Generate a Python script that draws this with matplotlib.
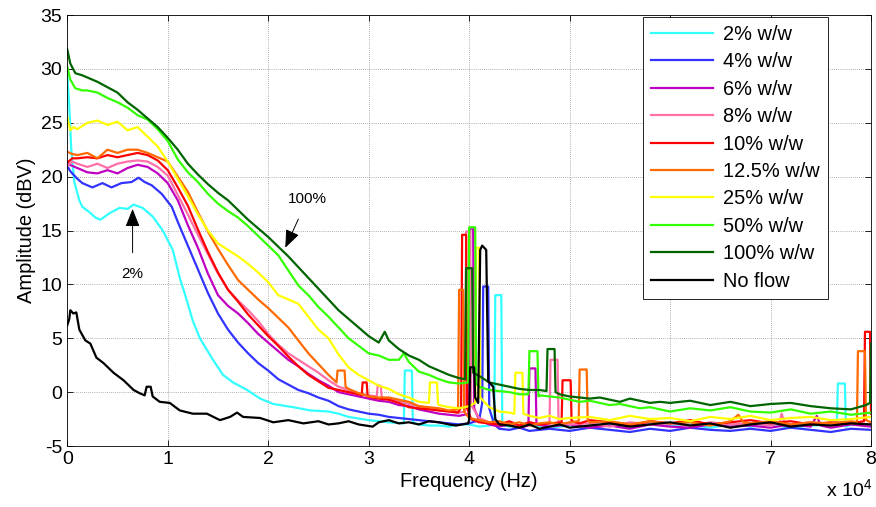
import matplotlib
matplotlib.use('Agg')
import matplotlib.pyplot as plt

plt.rcParams['font.family'] = ['Liberation Sans', 'DejaVu Sans']
plt.rcParams['mathtext.fontset'] = 'custom'
plt.rcParams['mathtext.rm'] = 'Liberation Sans'
plt.rcParams['axes.unicode_minus'] = False

########################################################################
# spectra: frequency in kHz, amplitude in dBV

f_2 = [0, 0.2, 0.4, 0.7, 1.2, 1.5, 2.2, 2.8, 3.3, 4.2, 5.2, 6.0, 6.6, 7.5, 8.5, 9.5, 10.5,
       11.2, 11.9, 12.5, 13.2, 14.5, 15.5, 16.5, 17.9, 19.2, 20.5, 22.5, 24.2, 26, 27, 28,
       30, 32, 33.5, 33.6, 34.3, 34.4, 35, 36, 37, 38, 39, 40, 41, 42, 42.5, 42.6, 43.2,
       43.3, 44, 46, 48, 50, 52, 54, 56, 58, 60, 62, 64, 66, 68, 70, 72, 74, 76.6, 76.7,
       77.4, 77.5, 78, 80]
a_2 = [29.5, 26.5, 22.5, 19.5, 17.8, 17.2, 16.7, 16.2, 16.0, 16.6, 17.1, 17.0, 17.4, 17.1,
       16.3, 15.0, 13.2, 10.6, 8.5, 6.6, 5.0, 3.0, 1.6, 0.9, 0.2, -0.6, -1.1, -1.4, -1.7,
       -1.8, -2.0, -2.3, -2.6, -2.8, -2.9, 2.0, 2.0, -2.8, -3.0, -3.1, -3.1, -3.2, -3.0,
       -3.0, -3.2, -3.1, -3.0, 9.0, 9.0, -3.0, -3.2, -3.0, -3.3, -3.1, -3.2, -3.0, -3.2,
       -2.9, -3.1, -3.0, -3.3, -3.0, -3.2, -3.0, -3.3, -3.1, -3.0, 0.8, 0.8, -3.2, -3.0, -3.1]

f_4 = [0, 0.3, 0.6, 1, 1.5, 2.5, 3.5, 4.4, 5.4, 6.4, 7.1, 7.7, 8.4, 9.4, 10.4, 11, 12, 13,
       14, 15, 16, 17, 18, 19, 20, 21, 22, 23, 24, 25, 26, 27, 28, 29, 30, 31, 32, 33, 34,
       35, 36, 37, 38, 39, 40, 41, 41.3, 41.4, 41.9, 42.0, 42.5, 43, 44, 45, 46, 48, 50,
       52, 54, 56, 58, 60, 62, 64, 66, 68, 70, 72, 74, 76, 78, 80]
a_4 = [21.0, 20.5, 20.2, 19.8, 19.4, 19.0, 19.4, 19.0, 19.4, 19.5, 19.9, 19.5, 19.2, 18.4,
       17.2, 15.8, 13.6, 11.4, 9.2, 7.3, 5.8, 4.6, 3.6, 2.7, 2.0, 1.2, 0.7, 0.2, -0.1, -0.5,
       -0.8, -1.3, -1.6, -1.8, -2.0, -2.1, -2.3, -2.4, -2.5, -2.6, -2.7, -2.8, -2.9, -3.0,
       -2.9, -2.6, -1.0, 9.8, 9.8, -1.5, -3.0, -3.4, -3.5, -3.3, -3.6, -3.4, -3.6, -3.3,
       -3.5, -3.7, -3.4, -3.6, -3.3, -3.5, -3.6, -3.4, -3.6, -3.3, -3.5, -3.7, -3.4, -3.5]

f_6 = [0, 0.5, 1, 2, 3, 4, 5, 6, 7, 8, 9, 10, 11, 12, 13, 14, 15, 16, 17, 18, 19, 20, 21,
       22, 23, 24, 25, 26, 27, 28, 29, 30, 31, 32, 33, 34, 35, 36, 37, 38, 39, 40.0, 40.1,
       40.4, 40.5, 41, 42, 43, 44, 45, 45.9, 46.0, 46.6, 46.7, 48, 50, 52, 54, 56, 58, 60,
       62, 64, 66, 68, 70, 72, 74, 74.6, 75, 76, 78, 80]
a_6 = [21.2, 21.0, 20.8, 20.4, 20.3, 20.6, 20.3, 20.8, 21.1, 20.9, 20.3, 19.4, 17.8, 15.5,
       13.4, 11.0, 9.0, 8.0, 7.3, 6.4, 5.4, 4.6, 3.8, 3.0, 2.4, 1.7, 1.1, 0.6, 0.0, -0.2,
       -0.4, -0.6, -0.8, -0.9, -1.2, -1.3, -1.6, -1.8, -2.0, -2.1, -2.2, -2.0, 15.2, 15.2,
       -1.5, -2.6, -3.0, -3.2, -3.0, -3.3, -3.1, 2.2, 2.2, -3.0, -3.2, -3.0, -3.3, -3.1,
       -3.4, -3.0, -3.2, -3.3, -3.0, -3.2, -3.1, -3.3, -3.0, -3.2, -2.2, -3.1, -3.3, -3.0,
       -3.2]

f_8 = [0, 0.5, 1, 2, 3, 4, 5, 6, 7, 8, 9, 10, 11, 12, 13, 14, 15, 16, 17, 18, 19, 20, 21,
       22, 23, 24, 25, 26, 27, 28, 29, 30, 30.8, 30.9, 31.2, 31.3, 32, 33, 34, 35, 36, 37,
       38, 39, 39.6, 39.7, 40.1, 40.2, 41, 42, 43, 44, 45, 46, 47, 48, 48.1, 48.8, 48.9,
       50, 52, 54, 56, 58, 60, 62, 64, 66, 68, 70, 70.9, 71.1, 71.4, 72, 74, 76, 78, 80]
a_8 = [21.0, 21.4, 21.2, 20.9, 21.2, 20.8, 21.2, 21.4, 21.5, 21.4, 20.9, 20.1, 18.3, 16.5,
       14.6, 12.8, 11.0, 9.5, 8.5, 7.6, 6.6, 5.4, 4.4, 3.6, 3.0, 2.4, 1.8, 1.1, 0.5, 0.2,
       -0.1, -0.3, -0.4, 0.6, 0.6, -0.5, -0.6, -0.8, -1.1, -1.3, -1.5, -1.7, -1.8, -1.9,
       -1.8, 14.9, 14.9, -1.2, -2.4, -2.8, -3.0, -2.9, -3.1, -2.8, -3.0, -2.9, 3.0, 3.0,
       -2.8, -3.0, -2.9, -3.2, -2.8, -3.0, -2.9, -3.1, -2.8, -3.0, -2.9, -3.1, -2.9, -2.0,
       -2.9, -3.0, -2.8, -3.1, -2.9, -3.0]

f_10 = [0, 0.5, 1, 2, 3, 4, 5, 6, 7, 8, 9, 10, 11, 12, 13, 14, 15, 16, 17, 18, 19, 20, 21,
        22, 23, 24, 25, 26, 27, 28, 29, 29.3, 29.4, 29.8, 29.9, 30.4, 31, 32, 33, 34, 35,
        36, 37, 38, 38.9, 39.2, 39.3, 39.7, 39.8, 40.2, 41, 42, 43, 44, 45, 46, 47, 48,
        49.2, 49.3, 50.1, 50.2, 51, 52, 54, 56, 58, 60, 62, 64, 66, 68, 70, 72, 74, 76, 78,
        79.3, 79.4, 79.9, 80]
a_10 = [21.3, 21.7, 21.7, 21.8, 21.7, 22.0, 21.8, 22.0, 22.2, 22.0, 21.5, 20.6, 19.0, 17.3,
        15.1, 13.0, 11.1, 9.5, 8.4, 7.2, 6.2, 5.2, 4.3, 3.3, 2.4, 1.6, 1.0, 0.4, 0.2, 0.0,
        -0.2, -0.3, 0.9, 0.9, -0.4, -0.5, -0.6, -0.7, -1.0, -1.4, -1.5, -1.6, -1.7, -1.8,
        -1.9, -1.4, 14.6, 14.6, -1.5, -2.5, -2.8, -2.9, -3.0, -2.7, -3.1, -2.8, -3.0, -2.9,
        -2.8, 1.1, 1.1, -2.7, -2.9, -2.6, -2.8, -3.1, -2.7, -2.9, -2.6, -3.0, -2.8, -2.6,
        -2.9, -2.7, -3.0, -2.8, -2.9, -2.7, 5.6, 5.6, -2.0]

f_125 = [0, 0.5, 1, 2, 3, 4, 5, 6, 7, 8, 9, 10, 11, 12, 13, 14, 15, 16, 17, 18, 19, 20, 21,
         22, 23, 24, 25, 26, 26.8, 26.9, 27.6, 27.7, 28, 29, 30, 31, 32, 33, 34, 35, 36, 37,
         38, 38.9, 39.0, 39.4, 39.5, 40, 41, 42, 43, 44, 45, 46, 47, 48, 49, 50, 50.9, 51.0,
         51.7, 51.8, 52, 54, 56, 58, 60, 62, 64, 66, 66.8, 67.3, 68, 70, 72, 74, 76, 78,
         78.6, 78.7, 79.4, 79.5, 80]
a_125 = [22.3, 22.1, 22.0, 22.2, 21.7, 22.5, 22.2, 22.5, 22.5, 22.2, 21.8, 21.4, 20.0, 18.6,
         16.7, 14.9, 13.3, 11.8, 10.4, 9.5, 8.6, 7.8, 6.9, 6.0, 4.8, 3.6, 2.6, 1.6, 0.9, 2.0,
         2.0, 0.5, 0.3, -0.1, -0.4, -0.5, -0.5, -0.7, -0.9, -1.3, -1.4, -1.5, -1.7, -1.6,
         9.5, 9.5, -1.8, -2.4, -2.6, -2.8, -2.7, -3.0, -2.8, -3.1, -2.9, -2.8, -3.0, -2.8,
         -2.7, 2.1, 2.1, -2.6, -2.8, -2.7, -3.0, -2.7, -2.9, -2.8, -3.1, -2.7, -2.1, -2.8,
         -2.9, -2.7, -3.0, -2.8, -2.9, -2.7, -2.8, 3.8, 3.8, -2.6, -2.8]

f_25 = [0, 0.3, 0.6, 1, 2, 3, 4, 5, 6, 7, 8, 9, 10, 10.5, 11, 12, 13, 14, 15, 16, 17, 18,
        19, 20, 21, 22, 23, 24, 25, 26, 27, 28, 29, 30, 31, 32, 33, 34, 35, 36.0, 36.1,
        36.8, 36.9, 37, 38, 39, 40, 40.6, 40.7, 41.0, 41.1, 42, 43, 44, 44.5, 44.6, 45.3,
        45.4, 46, 47, 48, 49, 50, 52, 54, 56, 58, 60, 62, 64, 66, 68, 70, 72, 74, 76, 78, 80]
a_25 = [25.5, 24.3, 24.6, 24.4, 25.0, 25.2, 24.8, 25.1, 24.3, 24.6, 23.7, 22.8, 21.4, 20.6,
        19.8, 18.2, 16.5, 15.0, 13.8, 13.2, 12.6, 11.9, 11.1, 10.2, 9.0, 8.6, 8.2, 7.0, 5.8,
        5.0, 3.5, 2.3, 1.6, 1.1, 0.6, 0.3, -0.2, -0.5, -0.9, -1.0, 0.9, 0.9, -1.1, -1.2,
        -1.4, -1.5, -1.3, -1.0, 13.4, 13.4, -0.5, -1.4, -1.8, -1.9, -2.0, 1.8, 1.8, -2.0,
        -2.2, -2.4, -2.2, -2.5, -2.4, -2.3, -2.6, -2.2, -2.5, -2.4, -2.7, -2.3, -2.5, -2.2,
        -2.6, -2.4, -2.3, -2.6, -2.5, -2.3]

f_50 = [0, 0.3, 0.8, 1.5, 2, 3, 4, 5, 6, 7, 8, 9, 10, 11, 12, 13, 14, 15, 16, 17, 18, 19,
        20, 21, 22, 23, 24, 25, 26, 27, 28, 29, 30, 31, 32, 33, 33.5, 34, 35, 36, 37, 38, 39,
        39.9, 40.0, 40.6, 40.7, 41, 42, 43, 44, 45, 45.9, 46.0, 46.8, 46.9, 47, 48, 49, 50,
        51, 52, 53, 54, 55, 56, 57, 58, 60, 62, 64, 66, 68, 70, 72, 74, 76, 78, 80]
a_50 = [30.2, 29.0, 28.2, 28.0, 28.0, 27.8, 27.3, 26.9, 26.4, 25.7, 25.3, 24.4, 23.3, 21.6,
        20.4, 19.5, 18.4, 17.5, 16.8, 16.2, 15.4, 14.5, 13.6, 12.7, 11.3, 9.9, 9.0, 7.9,
        7.0, 6.0, 5.0, 4.3, 3.6, 3.4, 3.0, 3.0, 3.6, 2.8, 1.9, 1.6, 1.2, 0.9, 0.8, 0.9,
        15.3, 15.3, 0.8, 0.5, 0.2, 0.1, 0.0, -0.2, -0.2, 3.8, 3.8, -0.4, -0.3, -0.4, -0.5,
        -0.7, -0.9, -0.8, -1.0, -1.2, -1.1, -1.3, -1.5, -1.4, -1.8, -1.5, -1.7, -1.4, -1.8,
        -1.9, -1.6, -2.0, -1.8, -2.1, -1.9]

f_100 = [0, 0.3, 0.8, 1.5, 2, 3, 4, 5, 6, 7, 8, 9, 10, 11, 12, 13, 14, 15, 16, 17, 18, 19,
         20, 21, 22, 23, 24, 25, 26, 27, 28, 29, 30, 31, 31.6, 32, 33, 34, 35, 36, 37, 38, 39,
         39.6, 39.7, 40.3, 40.4, 41, 42, 43, 44, 45, 46, 47, 47.7, 47.8, 48.5, 48.6, 49, 50,
         51, 52, 53, 54, 55, 56, 57, 58, 59, 60, 62, 64, 66, 68, 70, 72, 74, 76, 78, 79.5,
         79.9, 80]
a_100 = [31.8, 30.5, 29.6, 29.4, 29.2, 28.8, 28.3, 27.8, 26.9, 26.2, 25.4, 24.6, 23.6, 22.5,
         21.2, 20.2, 19.3, 18.5, 17.8, 16.9, 16.0, 15.2, 14.4, 13.5, 12.6, 11.6, 10.6, 9.6,
         8.6, 7.6, 6.8, 6.0, 5.2, 4.6, 5.6, 4.8, 4.0, 3.4, 3.0, 2.4, 2.0, 1.6, 1.3, 1.2,
         11.5, 11.5, 1.8, 1.5, 0.9, 0.7, 0.5, 0.3, 0.2, 0.2, 0.1, 4.0, 4.0, 0.0, -0.2, -0.4,
         -0.5, -0.6, -0.5, -0.7, -0.9, -0.6, -0.8, -1.0, -0.9, -1.0, -0.8, -1.2, -0.9, -1.3,
         -1.1, -1.0, -1.3, -1.5, -1.6, -1.2, -1.0, 4.5]

f_none = [0, 0.2, 0.3, 0.6, 0.9, 1.2, 1.8, 2.3, 2.9, 3.6, 4.6, 5.6, 6.6, 7.2, 7.7, 7.9, 8.3,
          8.5, 9.2, 10.2, 11.2, 12.5, 13.9, 15.2, 16.2, 16.9, 17.5, 19.2, 20.5, 22, 23.5, 25,
          26, 27, 28, 29, 30.4, 31, 32, 33, 34, 35, 36, 37, 38, 38.7, 39.9, 40.0, 40.1, 40.5,
          40.6, 40.9, 41.1, 41.3, 41.7, 41.9, 42.4, 42.6, 43, 44, 45, 46, 47, 48, 49, 50, 52,
          54, 56, 58, 60, 62, 64, 66, 68, 70, 72, 74, 76, 78, 80]
a_none = [6.2, 6.8, 7.6, 7.3, 7.4, 5.8, 4.8, 4.5, 3.2, 2.7, 1.8, 1.1, 0.2, -0.1, -0.3, 0.5,
          0.5, -0.4, -0.9, -1.0, -1.7, -2.0, -2.0, -2.6, -2.3, -1.9, -2.3, -2.4, -2.8, -2.6,
          -2.9, -2.7, -3.0, -2.9, -2.7, -3.0, -3.2, -2.8, -2.6, -2.9, -2.8, -3.0, -2.7, -2.8,
          -3.0, -3.1, -2.9, -2.6, 2.3, 2.3, -0.5, -1.0, 13.2, 13.6, 13.2, 1.0, 0.5, -2.5,
          -3.0, -3.1, -3.3, -3.0, -3.4, -3.2, -3.0, -3.3, -3.1, -2.9, -3.2, -3.0, -2.8, -3.1,
          -2.9, -3.3, -3.0, -2.8, -3.2, -3.0, -3.1, -2.9, -3.0]

labels = ['2% w/w', '4% w/w', '6% w/w', '8% w/w', '10% w/w', '12.5% w/w',
          '25% w/w', '50% w/w', '100% w/w', 'No flow']
freqs = [f_2, f_4, f_6, f_8, f_10, f_125, f_25, f_50, f_100, f_none]
amps = [a_2, a_4, a_6, a_8, a_10, a_125, a_25, a_50, a_100, a_none]
colors = ['#33ffff', '#3333ff', '#c000c0', '#ff70a8', '#ff0000', '#ff6a00',
          '#ffff00', '#33ff00', '#006400', '#000000']

########################################################################

fig = plt.figure(figsize=(8.76, 5.07), dpi=100)
ax = fig.add_axes([0.0768, 0.1203, 0.9175, 0.8501])

for f, a, c, lbl in zip(freqs, amps, colors, labels):
    ax.plot([v * 1000 for v in f], a, color=c, lw=1.6, label=lbl)

ax.set_xlim(0, 80000)
ax.set_ylim(-5, 35)
ax.set_xticks(range(0, 80001, 10000))
ax.set_xticklabels([str(i) for i in range(9)])
ax.set_yticks(range(-5, 36, 5))
ax.tick_params(direction='in', top=True, right=True, labelsize=14, length=4, width=0.6)
ax.grid(True, color='#666666', linestyle=(0, (1, 2)), linewidth=0.5)
for s in ax.spines.values():
    s.set_linewidth(0.6)

ax.set_xlabel('Frequency (Hz)', fontsize=14.4, labelpad=3)
ax.set_ylabel('Amplitude (dBV)', fontsize=14.4, labelpad=3)
fig.text(0.943, 0.012, r'x 10$^4$', fontsize=14, ha='left', va='bottom')

# annotations
ax.annotate('2%', xy=(6500, 17.0), xytext=(6500, 11.0), ha='center', va='center',
            fontsize=11, arrowprops=dict(arrowstyle='-|>,head_length=1.0,head_width=0.4',
                                          color='black', lw=0.7, shrinkA=8, shrinkB=0))
ax.annotate('100%', xy=(21700, 13.4), xytext=(23900, 17.9), ha='center', va='center',
            fontsize=11, arrowprops=dict(arrowstyle='-|>,head_length=1.0,head_width=0.4',
                                          color='black', lw=0.7, shrinkA=8, shrinkB=0))

leg = ax.legend(loc='upper left', bbox_to_anchor=(643 / 876, 1 - 17 / 507),
                bbox_transform=fig.transFigure, borderaxespad=0, fontsize=14.4,
                fancybox=False, framealpha=1, edgecolor='black', handlelength=3.1,
                labelspacing=0.42, borderpad=0.4, handletextpad=0.5)
leg.get_frame().set_linewidth(0.6)

fig.savefig('out.png', dpi=100)
